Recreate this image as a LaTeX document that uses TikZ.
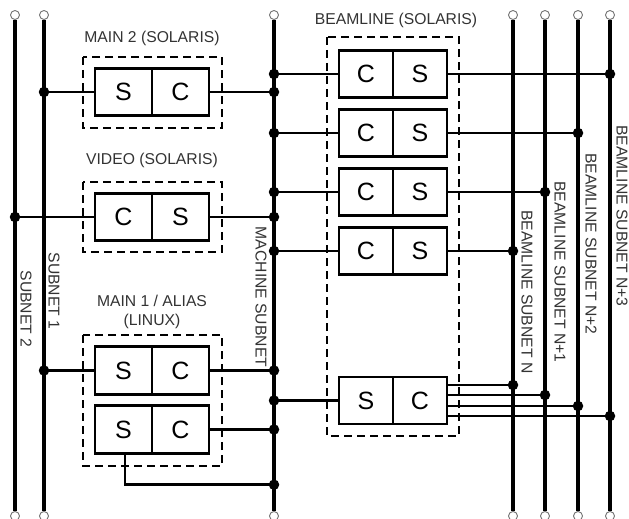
\documentclass[tikz,border=0pt]{standalone}
\usepackage{fontspec}
\setmainfont{Liberation Sans}
\begin{document}
\begin{tikzpicture}[x=1pt,y=-1pt,
  bus/.style={line width=3.4pt},
  wire/.style={line width=2.9pt},
  cell/.style={draw,line width=2.9pt,minimum width=57pt,minimum height=47.5pt,inner sep=0pt,font=\fontsize{25}{25}\selectfont},
  bcell/.style={cell,minimum width=54pt,minimum height=47pt},
  grp/.style={draw,line width=2.6pt,dash pattern=on 8pt off 5pt},
  lbl/.style={font=\fontsize{15.7}{19}\selectfont,text=black!80,align=center,inner sep=0pt},
  vlbl/.style={lbl,rotate=-90},
  dot/.style={circle,fill,inner sep=0pt,minimum size=10.5pt},
  term/.style={circle,draw=black!55,fill=white,line width=0.9pt,inner sep=0pt,minimum size=9pt}]
\useasboundingbox (0,0) rectangle (629,519);

% buses
\foreach \n/\x in {s2/15,s1/44,ms/274,bn/513,bna/545,bnb/578,bnc/610}{
  \node[term] (\n-t) at (\x,15) {};
  \node[term] (\n-b) at (\x,516) {};
  \draw[bus] (\n-t.south) -- (\n-b.north);
}

% groups
\draw[grp] (83,57) rectangle (222,128);
\draw[grp] (83,182) rectangle (222,252);
\draw[grp] (83,335) rectangle (222,466);
\draw[grp] (327,37) rectangle (459,436);

% cells
\node[cell] (m2s) at (123.5,92) {S};
\node[cell] (m2c) at (180.5,92) {C};
\node[cell] (vc) at (123.5,217) {C};
\node[cell] (vs) at (180.5,217) {S};
\node[cell] (a1s) at (123.5,370.5) {S};
\node[cell] (a1c) at (180.5,370.5) {C};
\node[cell] (a2s) at (123.5,429.5) {S};
\node[cell] (a2c) at (180.5,429.5) {C};
\node[bcell] (b1c) at (366,74) {C};
\node[bcell] (b1s) at (420,74) {S};
\node[bcell] (b2c) at (366,133) {C};
\node[bcell] (b2s) at (420,133) {S};
\node[bcell] (b3c) at (366,192) {C};
\node[bcell] (b3s) at (420,192) {S};
\node[bcell] (b4c) at (366,251) {C};
\node[bcell] (b4s) at (420,251) {S};
\node[bcell] (b5s) at (366,400.5) {S};
\node[bcell] (b5c) at (420,400.5) {C};

% wires
\draw[wire] (m2s.west) -- (m2s.west -| s1-t) coordinate (j1);
\draw[wire] (m2c.east) -- (m2c.east -| ms-t) coordinate (j2);
\draw[wire] (vc.west) -- (vc.west -| s2-t) coordinate (j3);
\draw[wire] (vs.east) -- (vs.east -| ms-t) coordinate (j4);
\draw[wire] (a1s.west) -- (a1s.west -| s1-t) coordinate (j5);
\draw[wire] (a1c.east) -- (a1c.east -| ms-t) coordinate (j6);
\draw[wire] (a2c.east) -- (a2c.east -| ms-t) coordinate (j7);
\coordinate (a2turn) at ([xshift=1.5pt,yshift=-30pt]a2s.south);
\draw[wire] (a2turn |- a2s.south) -- (a2turn) -- (a2turn -| ms-t) coordinate (j8);
\draw[wire] (b1c.west) -- (b1c.west -| ms-t) coordinate (k1);
\draw[wire] (b2c.west) -- (b2c.west -| ms-t) coordinate (k2);
\draw[wire] (b3c.west) -- (b3c.west -| ms-t) coordinate (k3);
\draw[wire] (b4c.west) -- (b4c.west -| ms-t) coordinate (k4);
\draw[wire] (b5s.west) -- (b5s.west -| ms-t) coordinate (k5);
\draw[wire] (b1s.east) -- (b1s.east -| bnc-t) coordinate (n1);
\draw[wire] (b2s.east) -- (b2s.east -| bnb-t) coordinate (n2);
\draw[wire] (b3s.east) -- (b3s.east -| bna-t) coordinate (n3);
\draw[wire] (b4s.east) -- (b4s.east -| bn-t) coordinate (n4);
\draw[wire] ([yshift=15.5pt]b5c.east) -- ([yshift=15.5pt]b5c.east -| bn-t) coordinate (p1);
\draw[wire] ([yshift=5.5pt]b5c.east) -- ([yshift=5.5pt]b5c.east -| bna-t) coordinate (p2);
\draw[wire] ([yshift=-5.5pt]b5c.east) -- ([yshift=-5.5pt]b5c.east -| bnb-t) coordinate (p3);
\draw[wire] ([yshift=-15.5pt]b5c.east) -- ([yshift=-15.5pt]b5c.east -| bnc-t) coordinate (p4);

% junction dots
\foreach \j in {j1,j2,j3,j4,j5,j6,j7,j8,k1,k2,k3,k4,k5,n1,n2,n3,n4,p1,p2,p3,p4}
  \node[dot] at (\j) {};

% labels
\node[lbl] (l-m2) at (152,38) {MAIN 2 (SOLARIS)};
\node[lbl] (l-v) at (152,160) {VIDEO (SOLARIS)};
\node[lbl] (l-m1) at (152,312) {MAIN 1 / ALIAS\\(LINUX)};
\node[lbl] (l-b) at (396,20) {BEAMLINE (SOLARIS)};
\node[vlbl] (l-s2) at (26,309) {SUBNET 2};
\node[vlbl] (l-s1) at (54,291) {SUBNET 1};
\node[vlbl] (l-ms) at (261,297) {MACHINE SUBNET};
\node[vlbl] (l-bn) at (527,292) {BEAMLINE SUBNET N};
\node[vlbl] (l-bna) at (560,272) {BEAMLINE SUBNET N+1};
\node[vlbl] (l-bnb) at (591,244) {BEAMLINE SUBNET N+2};
\node[vlbl] (l-bnc) at (622,216) {BEAMLINE SUBNET N+3};
\end{tikzpicture}
\end{document}
